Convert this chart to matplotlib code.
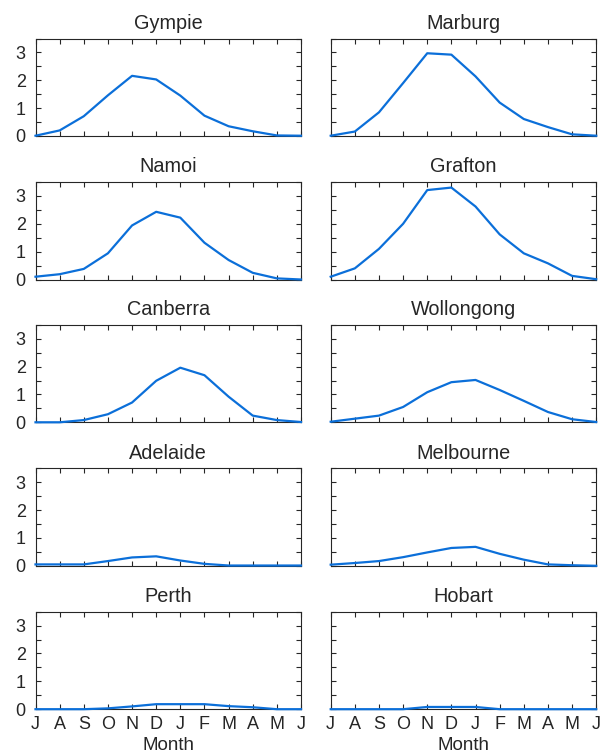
import matplotlib
matplotlib.use("Agg")
import matplotlib.pyplot as plt
from matplotlib.ticker import MultipleLocator

plt.rcParams['font.family'] = ['Liberation Sans', 'DejaVu Sans']

months = ['J', 'A', 'S', 'O', 'N', 'D', 'J', 'F', 'M', 'A', 'M', 'J']

gympie     = [0.01, 0.20, 0.71, 1.46, 2.16, 2.03, 1.45, 0.73, 0.35, 0.17, 0.02, 0.01]
marburg    = [0.01, 0.16, 0.85, 1.90, 2.97, 2.92, 2.14, 1.20, 0.61, 0.32, 0.06, 0.01]
namoi      = [0.10, 0.19, 0.38, 0.94, 1.94, 2.43, 2.22, 1.32, 0.70, 0.24, 0.04, 0.00]
grafton    = [0.10, 0.40, 1.10, 2.00, 3.21, 3.30, 2.62, 1.62, 0.94, 0.58, 0.13, 0.01]
canberra   = [0.00, 0.00, 0.08, 0.29, 0.71, 1.49, 1.96, 1.69, 0.92, 0.24, 0.08, 0.01]
wollongong = [0.02, 0.13, 0.24, 0.55, 1.08, 1.44, 1.52, 1.16, 0.77, 0.37, 0.11, 0.01]
adelaide   = [0.05, 0.05, 0.05, 0.17, 0.30, 0.34, 0.19, 0.07, 0.01, 0.01, 0.01, 0.01]
melbourne  = [0.04, 0.10, 0.17, 0.31, 0.48, 0.64, 0.68, 0.43, 0.22, 0.05, 0.02, 0.00]
perth      = [0.00, 0.00, 0.00, 0.03, 0.10, 0.18, 0.18, 0.18, 0.11, 0.07, 0.00, 0.00]
hobart     = [0.00, 0.00, 0.00, 0.00, 0.08, 0.08, 0.08, 0.00, 0.00, 0.00, 0.00, 0.00]

titles = ['Gympie', 'Marburg', 'Namoi', 'Grafton', 'Canberra', 'Wollongong',
          'Adelaide', 'Melbourne', 'Perth', 'Hobart']
series = [gympie, marburg, namoi, grafton, canberra, wollongong,
          adelaide, melbourne, perth, hobart]

W, H = 602, 753
fig = plt.figure(figsize=(W / 100, H / 100), dpi=100)

col_left = [35.5, 330.7]
col_w = 265.5
row_top = [38.5, 182.0, 324.8, 468.3, 611.7]
row_h = 97.5

line_color = '#0b6fd9'
axis_color = '#262626'
x = list(range(len(months)))

for i, (t, y) in enumerate(zip(titles, series)):
    r, c = divmod(i, 2)
    ax = fig.add_axes([col_left[c] / W, 1 - (row_top[r] + row_h) / H, col_w / W, row_h / H])
    ax.plot(x, y, color=line_color, lw=1.6, clip_on=False, zorder=3)
    ax.set_xlim(0, 11)
    ax.set_ylim(0, 3.5)
    ax.set_xticks(x)
    ax.set_yticks([0, 1, 2, 3])
    ax.yaxis.set_minor_locator(MultipleLocator(0.5))
    ax.tick_params(axis='both', which='both', direction='in', top=True, right=True,
                   color=axis_color, labelcolor=axis_color, labelsize=13)
    ax.tick_params(axis='both', which='major', length=3.5, width=0.8)
    ax.tick_params(axis='y', which='minor', length=3.5, width=0.8)
    ax.tick_params(axis='y', which='major', pad=7)
    ax.tick_params(axis='x', which='major', pad=5)
    for s in ax.spines.values():
        s.set_color(axis_color)
        s.set_linewidth(0.8)
    ax.set_title(t, fontsize=14.3, color=axis_color, pad=7)
    if r == 4:
        ax.set_xticklabels(months)
        ax.set_xlabel('Month', fontsize=13.5, color=axis_color, labelpad=3)
    else:
        ax.set_xticklabels([])
    if c == 1:
        ax.set_yticklabels([])

fig.savefig('out.png', dpi=100)
